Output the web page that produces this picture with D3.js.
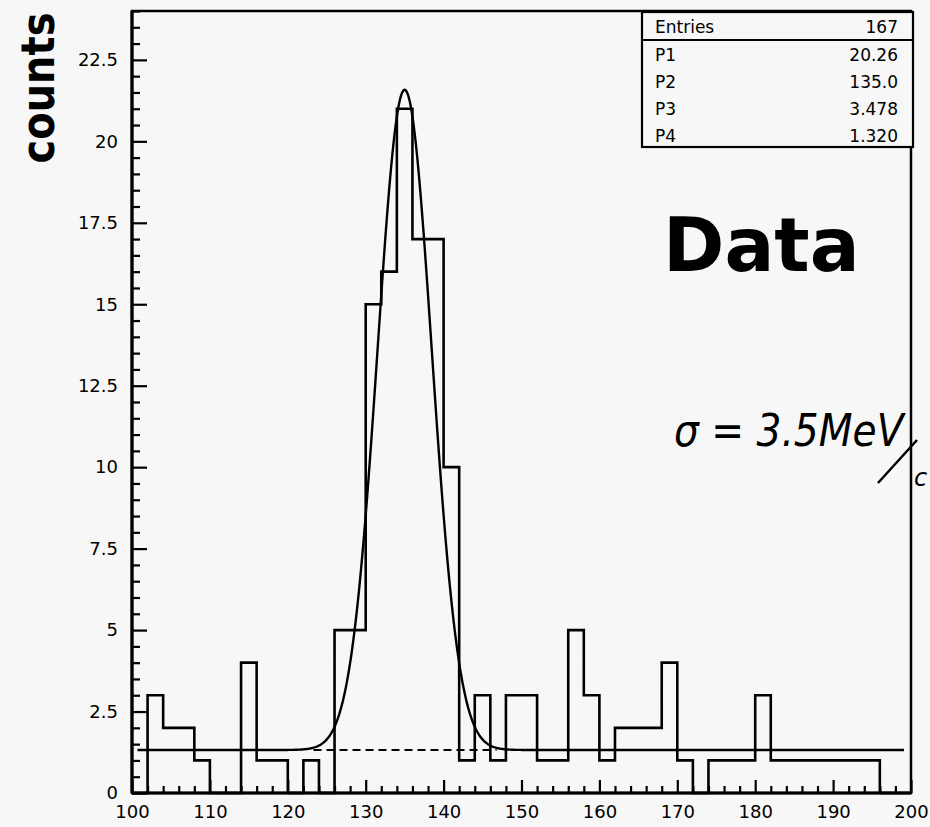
<!DOCTYPE html>
<html>
<head>
<meta charset="utf-8">
<script src="https://cdn.jsdelivr.net/npm/d3@7"></script>
<style>
  body { margin: 0; background: #f7f7f7; }
  svg { display: block; }
</style>
</head>
<body>
<svg id="chart" width="930" height="827"></svg>
<script>
// Histogram: 2-unit bins from 100 to 200
const binEdges = d3.range(100, 201, 2);
const counts = [
  0, 3, 2, 2, 1, 0, 0, 4, 1, 1,
  0, 1, 0, 5, 5, 15, 16, 21, 17, 17,
  10, 1, 3, 1, 3, 3, 1, 1, 5, 3,
  1, 2, 2, 2, 4, 1, 0, 1, 1, 1,
  3, 1, 1, 1, 1, 1, 1, 1, 0, 0
];

// Axis ticks
const xTickValues = [100, 110, 120, 130, 140, 150, 160, 170, 180, 190, 200];
const xTickLabels = ["100", "110", "120", "130", "140", "150", "160", "170", "180", "190", "200"];
const yTickValues = [0, 2.5, 5, 7.5, 10, 12.5, 15, 17.5, 20, 22.5];
const yTickLabels = ["0", "2.5", "5", "7.5", "10", "12.5", "15", "17.5", "20", "22.5"];

// Statistics box: entries and Gaussian + constant fit parameters
const statNames = ["Entries", "P1", "P2", "P3", "P4"];
const statText = ["167", "20.26", "135.0", "3.478", "1.320"];
const fitP = [20.26, 135.0, 3.478, 1.320];
const fitRange = [100.7, 199.1];
const backgroundRange = [123.3, 146.8];

const svg = d3.select("#chart");
const W = 930, H = 827;
svg.append("rect").attr("width", W).attr("height", H).attr("fill", "#f7f7f7");

const x = d3.scaleLinear().domain([100, 200]).range([132, 911]);
const y = d3.scaleLinear().domain([0, 24]).range([793, 11]);

const ink = "#000";
const tickFont = "'DejaVu Sans', sans-serif";

// Minor ticks
const xMinor = d3.range(100, 201, 2).filter(v => v % 10 !== 0);
const yMinor = d3.range(0, 24.01, 0.5).filter(v => Math.abs(v / 2.5 - Math.round(v / 2.5)) > 1e-6);

const gx = svg.append("g").attr("transform", `translate(0,${y(0)})`);
gx.call(d3.axisBottom(x).tickValues(xTickValues)
  .tickFormat((d, i) => xTickLabels[i])
  .tickSizeInner(-13).tickSizeOuter(0).tickPadding(12));
gx.append("g").call(d3.axisBottom(x).tickValues(xMinor).tickFormat("")
  .tickSizeInner(-7).tickSizeOuter(0));

const gy = svg.append("g").attr("transform", `translate(${x(100)},0)`);
gy.call(d3.axisLeft(y).tickValues(yTickValues)
  .tickFormat((d, i) => yTickLabels[i])
  .tickSizeInner(-15).tickSizeOuter(0).tickPadding(14));
gy.append("g").call(d3.axisLeft(y).tickValues(yMinor).tickFormat("")
  .tickSizeInner(-8).tickSizeOuter(0));

svg.selectAll(".domain").remove();
svg.selectAll(".tick line").attr("stroke", ink).attr("stroke-width", 2.2);
svg.selectAll(".tick text")
  .attr("fill", ink)
  .style("font-family", tickFont)
  .style("font-size", "18px");

// Frame
svg.append("rect")
  .attr("x", x(100)).attr("y", y(24))
  .attr("width", x(200) - x(100)).attr("height", y(0) - y(24))
  .attr("fill", "none").attr("stroke", ink).attr("stroke-width", 2.5);
svg.append("line")
  .attr("x1", x(100)).attr("x2", x(100)).attr("y1", y(24)).attr("y2", y(0))
  .attr("stroke", ink).attr("stroke-width", 3.2);
svg.append("line")
  .attr("x1", x(100)).attr("x2", x(200)).attr("y1", y(0)).attr("y2", y(0))
  .attr("stroke", ink).attr("stroke-width", 3.2);

// Histogram outline
const histPts = [[binEdges[0], 0]];
counts.forEach((c, i) => {
  histPts.push([binEdges[i], c]);
  histPts.push([binEdges[i + 1], c]);
});
histPts.push([binEdges[binEdges.length - 1], 0]);

const line = d3.line().x(d => x(d[0])).y(d => y(d[1]));
svg.append("path")
  .attr("d", line(histPts))
  .attr("fill", "none").attr("stroke", ink)
  .attr("stroke-width", 2.6).attr("stroke-linejoin", "miter");

// Fit: P1 * exp(-0.5 ((x - P2) / P3)^2) + P4
const gauss = v => fitP[0] * Math.exp(-0.5 * Math.pow((v - fitP[1]) / fitP[2], 2)) + fitP[3];
const fitXs = d3.range(fitRange[0], fitRange[1], 0.1).concat([fitRange[1]]);
svg.append("path")
  .attr("d", line(fitXs.map(v => [v, gauss(v)])))
  .attr("fill", "none").attr("stroke", ink).attr("stroke-width", 2.4);

// Constant background term under the peak
svg.append("path")
  .attr("d", line(backgroundRange.map(v => [v, fitP[3]])))
  .attr("fill", "none").attr("stroke", ink).attr("stroke-width", 2)
  .attr("stroke-dasharray", "8,5");

// Statistics box
const box = { x0: 642, x1: 913, y0: 12, y1: 147 };
const statG = svg.append("g");
statG.append("rect")
  .attr("x", box.x0).attr("y", box.y0)
  .attr("width", box.x1 - box.x0).attr("height", box.y1 - box.y0)
  .attr("fill", "#f7f7f7").attr("stroke", ink).attr("stroke-width", 2.2);
statG.append("line")
  .attr("x1", box.x0).attr("x2", box.x1).attr("y1", 40).attr("y2", 40)
  .attr("stroke", ink).attr("stroke-width", 2);
const rowBase = [33, 61, 88, 115, 142];
statNames.forEach((n, i) => {
  statG.append("text").attr("x", 655).attr("y", rowBase[i])
    .style("font-family", tickFont).style("font-size", "17px")
    .attr("fill", ink).text(n);
  statG.append("text").attr("x", 898).attr("y", rowBase[i])
    .attr("text-anchor", "end")
    .style("font-family", tickFont).style("font-size", "17px")
    .attr("fill", ink).text(statText[i]);
});

// Axis title, narrowed horizontally
svg.append("text")
  .attr("transform", "translate(54,88) rotate(-90) scale(0.85,1)")
  .attr("text-anchor", "middle")
  .style("font-family", tickFont).style("font-weight", "bold").style("font-size", "47px")
  .attr("fill", ink).text("counts");

// Annotations
svg.append("text")
  .attr("x", 663).attr("y", 271)
  .style("font-family", tickFont).style("font-weight", "bold").style("font-size", "74px")
  .attr("fill", ink).text("Data");

svg.append("text")
  .attr("transform", "translate(674,446) scale(0.89,1)")
  .style("font-family", tickFont).style("font-style", "italic").style("font-size", "44px")
  .attr("fill", ink).text("σ = 3.5MeV");
svg.append("path")
  .attr("d", "M878,483 L917,440")
  .attr("fill", "none").attr("stroke", ink).attr("stroke-width", 2.5);
svg.append("text")
  .attr("x", 914).attr("y", 486)
  .style("font-family", tickFont).style("font-style", "italic").style("font-size", "24px")
  .attr("fill", ink).text("c");
</script>
</body>
</html>
